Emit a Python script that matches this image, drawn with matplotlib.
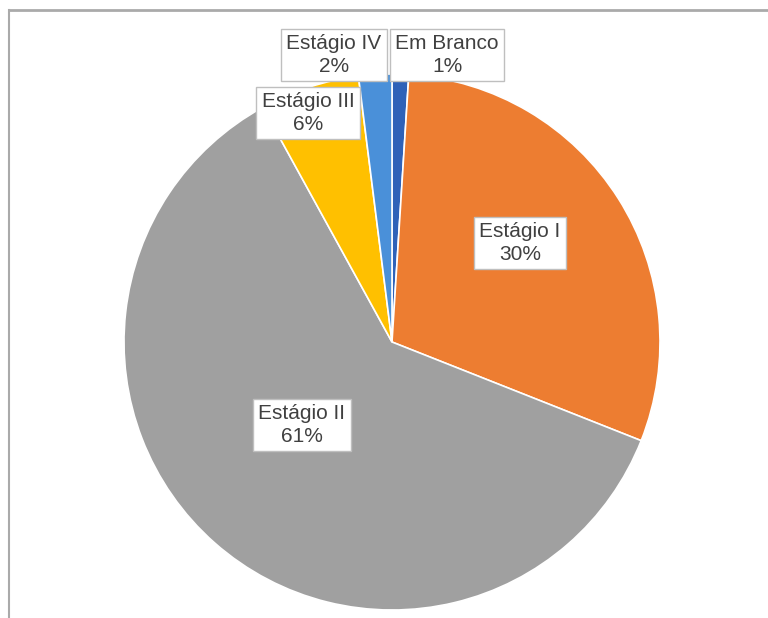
import matplotlib.pyplot as plt
from matplotlib.lines import Line2D

# stage distribution (percent), clockwise from 12 o'clock
categories = ["Em Branco", "Estágio I", "Estágio II", "Estágio III", "Estágio IV"]
values = [1, 30, 61, 6, 2]
colors = ["#2F62B8", "#ED7D31", "#A0A0A0", "#FFC000", "#4A90D9"]

# label box centres, in pixels from the top-left corner
label_pos = {
    "Em Branco": (447, 55),
    "Estágio I": (520, 243),
    "Estágio II": (302, 425),
    "Estágio III": (308, 113),
    "Estágio IV": (334, 55),
}

W, H = 768, 618
fig = plt.figure(figsize=(W / 100, H / 100), dpi=100)
ax = fig.add_axes([0, 0, 1, 1])

ax.pie(
    values,
    colors=colors,
    startangle=90,
    counterclock=False,
    center=(392, H - 342),
    radius=268,
    wedgeprops=dict(edgecolor="white", linewidth=1.2),
    frame=True,
)
ax.set_xlim(0, W)
ax.set_ylim(0, H)
ax.axis("off")

for name, val in zip(categories, values):
    x, y = label_pos[name]
    ax.text(
        x, H - y, f"{name}\n{val}%",
        ha="center", va="center", fontsize=15, color="#404040",
        family="Liberation Sans", linespacing=1.3,
        bbox=dict(boxstyle="square,pad=0.25", facecolor="white",
                  edgecolor="#BFBFBF", linewidth=1),
    )

# frame lines along the top and left edges
fig.add_artist(Line2D([9 / W, 1], [1 - 10 / H, 1 - 10 / H], color="#AAAAAA", lw=2,
                      transform=fig.transFigure))
fig.add_artist(Line2D([9 / W, 9 / W], [0, 1 - 10 / H], color="#AAAAAA", lw=1.5,
                      transform=fig.transFigure))

fig.savefig("out.png", dpi=100)
